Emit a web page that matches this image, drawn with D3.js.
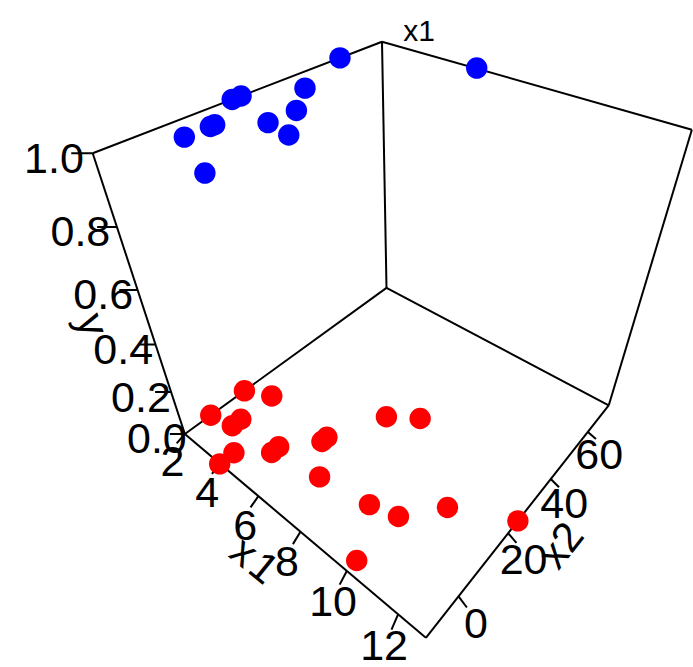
<!DOCTYPE html>
<html>
<head>
<meta charset="UTF-8">
<title>3D scatter of y against x1 and x2</title>
<style>
  html, body { margin: 0; padding: 0; background: #fff; }
  svg { display: block; }
  text { font-family: "Liberation Sans", Arial, sans-serif; fill: #000; }
</style>
</head>
<body>
<svg></svg>
<script src="https://d3js.org/d3.v7.min.js"></script>
<script>

let width = 693, height = 667;

// values
const x1Low = [2, 3, 2, 3, 3, 4, 4, 5, 5, 6, 6, 7, 7, 8, 9, 10, 11, 10, 13];
const x2Low = [9.2, 13, -2.9, 1.6, -1.4, -7, -11.7, 2, -0.5, 12.6, 10.7, 2.3, 28.5, 34.1, 4.5, 6.6, 16.3, -8.3, 24.3];
const x1High = [2, 6, 3, 4, 4, 5, 2, 2, 3, 3, 3, 5];
const x2High = [56.4, 72.8, 37, 27.2, 19.2, 18, 24.6, 22.1, 11.4, 10.3, 3.9, -2.6];

const x1Ticks = [2, 4, 6, 8, 10, 12];
const x2Ticks = [0, 20, 40, 60];
const yTicks = [0, 0.2, 0.4, 0.6, 0.8, 1];

let svg = d3.select("svg")
    .attr("width", width)
    .attr("height", height)
    .attr("viewBox", "0 0 " + width + " " + height);

// the box as unit cube
let sx1 = d3.scaleLinear().domain([2, 13]).range([0, 1]);
let sx2 = d3.scaleLinear().domain([-11.6, 72.5]).range([0, 1]);
let sy = d3.scaleLinear().domain([0, 1]).range([0, 1]);

// perspective matrix fitted to the box corners and ticks
const view = [
    [142.165, 308.199, -119.857, 184.866],
    [55.826, -66.667, -326.512, 433.946],
    [-0.2321, 0.2757, -0.2987, 1]
];

function project(u, v, z) {
    let c = view.map(r => r[0] * u + r[1] * v + r[2] * z + r[3]);
    return [c[0] / c[2], c[1] / c[2]];
}

let line = d3.line();

function drawLine(from, to) {
    svg.append("path")
        .attr("d", line([project(...from), project(...to)]))
        .attr("fill", "none")
        .attr("stroke", "#000")
        .attr("stroke-width", 2);
}

// floor, back walls
[
    [[0, 0, 0], [1, 0, 0]],
    [[1, 0, 0], [1, 1, 0]],
    [[1, 1, 0], [0, 1, 0]],
    [[0, 1, 0], [0, 0, 0]],
    [[0, 0, 0], [0, 0, 1]],
    [[0, 1, 0], [0, 1, 1]],
    [[1, 1, 0], [1, 1, 1]],
    [[0, 0, 1], [0, 1, 1]],
    [[0, 1, 1], [1, 1, 1]]
].forEach(e => drawLine(e[0], e[1]));

function tickLabel(p, label, dx, dy) {
    svg.append("text")
        .attr("x", p[0] + dx)
        .attr("y", p[1] + dy)
        .attr("dy", "0.36em")
        .attr("text-anchor", "middle")
        .attr("font-size", 43)
        .text(label);
}

// label offsets drift a little along each axis
let x1LabelDx = d3.scaleLinear().domain([2, 12]).range([-12.5, -14]);
let x1LabelDy = d3.scaleLinear().domain([2, 12]).range([27, 30]);
let x2LabelDx = d3.scaleLinear().domain([0, 60]).range([17.5, 11.3]);
let x2LabelDy = d3.scaleLinear().domain([0, 60]).range([26.7, 22]);
let yLabelDx = d3.scaleLinear().domain([0, 1]).range([-28, -38.7]);

x1Ticks.forEach(t => {
    let u = sx1(t);
    drawLine([u, 0, 0], [u + 0.012, -0.04, 0]);
    tickLabel(project(u, 0, 0), t, x1LabelDx(t), x1LabelDy(t));
});

x2Ticks.forEach(t => {
    let v = sx2(t);
    drawLine([1, v, 0], [1.034, v - 0.01, 0]);
    tickLabel(project(1, v, 0), t, x2LabelDx(t), x2LabelDy(t));
});

yTicks.forEach(t => {
    let z = sy(t);
    drawLine([0, 0, z], [-0.0375, -0.0315, z]);
    tickLabel(project(0, 0, z), d3.format(".1f")(t), yLabelDx(t), 4);
});

// axis names run along their edges
function axisName(p, angle, label, spacing) {
    svg.append("text")
        .attr("transform", "translate(" + p[0] + "," + p[1] + ") rotate(" + angle + ")")
        .attr("dy", "0.36em")
        .attr("text-anchor", "middle")
        .attr("font-size", 42)
        .attr("letter-spacing", spacing)
        .text(label);
}

axisName(project(0.516, -0.137, 0), 39, "x1", 3);
axisName(project(1.13, 0.44, 0), -52, "x2", 0);
axisName(project(-0.115, -0.10, 0.48), 72, "y", 0);

// the x1 corner marker at the top
svg.append("text")
    .attr("x", 419)
    .attr("y", 41)
    .attr("text-anchor", "middle")
    .attr("font-size", 30)
    .text("x1");

function drawPoints(xs, vs, y, colour) {
    svg.append("g")
        .selectAll("circle")
        .data(xs.map((d, i) => project(sx1(d), sx2(vs[i]), sy(y))))
        .enter()
        .append("circle")
        .attr("cx", d => d[0])
        .attr("cy", d => d[1])
        .attr("r", 10.7)
        .attr("fill", colour);
}

drawPoints(x1Low, x2Low, 0, "#ff0000");
drawPoints(x1High, x2High, 1, "#0000ff");

</script>
</body>
</html>
